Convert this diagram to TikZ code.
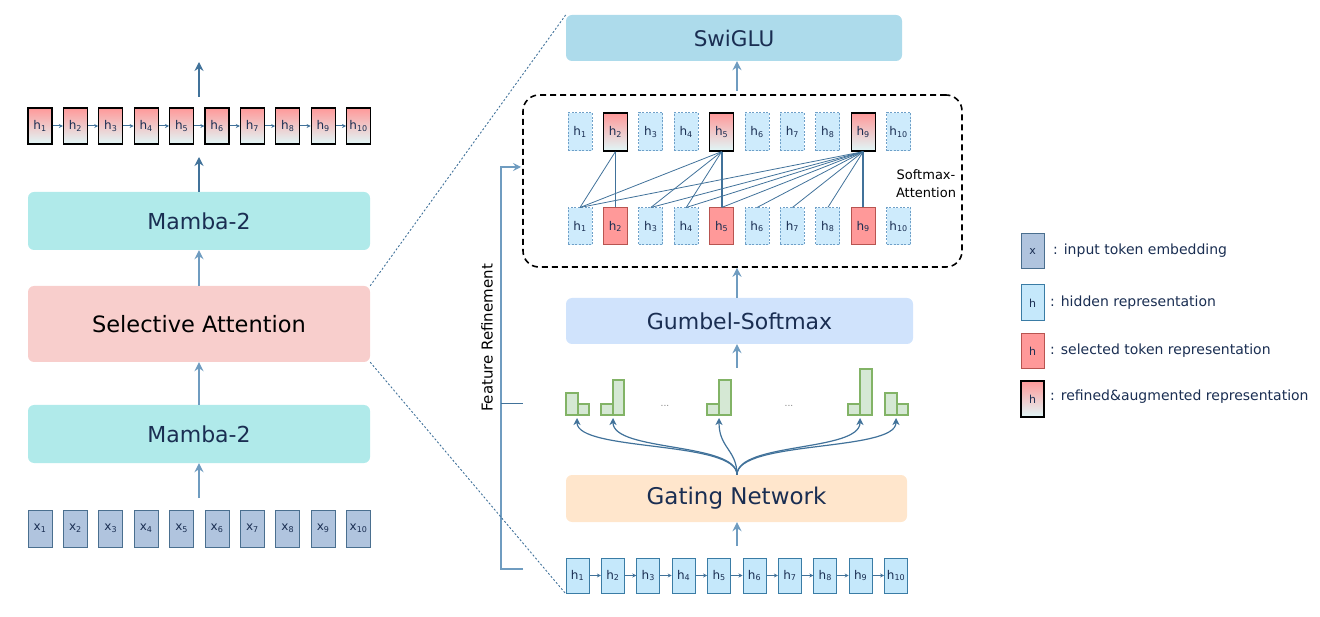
\documentclass[tikz,border=0pt]{standalone}
\usepackage{fontspec}
\setmainfont{DejaVu Sans}
\usetikzlibrary{arrows.meta}
\definecolor{arr}{HTML}{41729A}
\definecolor{arrl}{HTML}{6F9CC0}
\definecolor{navy}{HTML}{1A2E52}
\definecolor{xfill}{HTML}{B0C4DE}
\definecolor{xdraw}{HTML}{4A6F8F}
\definecolor{hfill}{HTML}{C5E8FB}
\definecolor{hdraw}{HTML}{3A7CA5}
\definecolor{hdash}{HTML}{6FA0C8}
\definecolor{sred}{HTML}{FF9999}
\definecolor{smid}{HTML}{F0C4C8}
\definecolor{sreddraw}{HTML}{B85450}
\definecolor{gcyan}{HTML}{E0F7F8}
\definecolor{mamba}{HTML}{B0EAEA}
\definecolor{selatt}{HTML}{F8CECC}
\definecolor{swiglu}{HTML}{ADDBEB}
\definecolor{gumbel}{HTML}{D0E3FC}
\definecolor{gating}{HTML}{FFE6CC}
\definecolor{gfill}{HTML}{D5E8D4}
\definecolor{gdraw}{HTML}{82B366}
\tikzset{
  tok/.style={rectangle, inner sep=0pt, minimum width=24pt, minimum height=36pt, text=navy, font=\fontsize{12}{14}\selectfont},
  xtok/.style={tok, fill=xfill, draw=xdraw, line width=1pt},
  htok/.style={tok, fill=hfill, draw=hdraw, line width=1pt},
  dtok/.style={tok, fill=hfill!85!white, draw=hdash, line width=1pt, dashed, dash pattern=on 2pt off 1.5pt},
  stok/.style={tok, fill=sred, draw=sreddraw, line width=1pt},
  rtok/.style={tok, top color=sred, middle color=smid, bottom color=gcyan, draw=black, line width=1.3pt},
  block/.style={rectangle, rounded corners=6pt, inner sep=0pt, text=navy, font=\fontsize{22}{26}\selectfont},
  bigarr/.style={draw=arr, line width=2pt, -{Stealth[length=9pt,width=9pt,inset=3pt]}},
  midarr/.style={draw=arrl, line width=2pt, -{Stealth[length=9pt,width=9pt,inset=3pt]}},
  smallarr/.style={draw=arr, line width=1pt, -{Stealth[length=4pt,width=4pt]}},
  curvarr/.style={draw=arr, line width=1.2pt, -{Stealth[length=7pt,width=7pt,inset=2pt]}},
  att/.style={draw=arr, line width=0.8pt},
  attk/.style={draw=arr, line width=1.8pt},
  bar/.style={fill=gfill, draw=gdraw, line width=1.2pt},
  zoomline/.style={draw=arr, line width=0.9pt, dash pattern=on 2pt off 2pt},
  legtxt/.style={anchor=west, text=navy, font=\fontsize{14}{16}\selectfont, inner sep=0pt},
}
\begin{document}
\begin{tikzpicture}[x=1pt,y=-1pt]
\useasboundingbox (0,0) rectangle (1320,617);

% ---------------- left column ----------------
\foreach \i in {1,...,10} {
  \pgfmathsetmacro\xx{40+35.4*(\i-1)}
  \node[rtok, line width=1.2pt] (lh\i) at (\xx,126) {h\textsubscript{\i}};
  \node[xtok, minimum height=37pt] (lx\i) at (\xx,528.5) {x\textsubscript{\i}};
}
\foreach \i [evaluate=\i as \j using int(\i+1)] in {1,...,9}
  \draw[smallarr] (lh\i) -- (lh\j);

\node[block, fill=mamba, minimum width=342pt, minimum height=58pt] (m2a) at (199,221) {Mamba-2};
\node[block, fill=selatt, text=black, minimum width=342pt, minimum height=76pt, font=\fontsize{22.5}{26}\selectfont] (sa) at (199,324) {Selective Attention};
\node[block, fill=mamba, minimum width=342pt, minimum height=58pt] (m2b) at (199,434) {Mamba-2};

\coordinate (topA) at (199,97);
\coordinate (topB) at (199,62);
\coordinate (rowin) at (199,157);
\coordinate (xout) at (199,498);
\draw[bigarr] (topA) -- (topB);
\draw[bigarr] (m2a.north) -- (rowin);
\draw[midarr] (sa.north) -- (m2a.south);
\draw[midarr] (m2b.north) -- (sa.south);
\draw[midarr] (xout) -- (m2b.south);

% ---------------- right panel ----------------
\node[block, fill=swiglu, minimum width=336pt, minimum height=46pt, font=\fontsize{21.5}{24}\selectfont] (sw) at (734,38) {SwiGLU};
\node[draw=black, dashed, dash pattern=on 6pt off 4pt, line width=1.6pt, rounded corners=16pt, minimum width=439pt, minimum height=172pt, inner sep=0pt] (db) at (742.5,181) {};

\foreach \i in {1,...,10} {
  \pgfmathsetmacro\xx{580+35.4*(\i-1)}
  \ifnum\i=2 \def\ts{rtok}\def\bs{stok}\else
  \ifnum\i=5 \def\ts{rtok}\def\bs{stok}\else
  \ifnum\i=9 \def\ts{rtok}\def\bs{stok}\else
  \def\ts{dtok}\def\bs{dtok}\fi\fi\fi
  \node[\ts, minimum height=38pt] (at\i) at (\xx,132) {h\textsubscript{\i}};
  \node[\bs, minimum height=37pt] (ab\i) at (\xx,226.5) {h\textsubscript{\i}};
  \pgfmathsetmacro\bx{577.5+35.4*(\i-1)}
  \node[htok, minimum width=23pt, minimum height=35pt] (bh\i) at (\bx,575.5) {h\textsubscript{\i}};
}
\foreach \i [evaluate=\i as \j using int(\i+1)] in {1,...,9}
  \draw[smallarr] (bh\i) -- (bh\j);

% attention lines
\draw[att] (at2.south) -- (ab1.north);
\draw[att] (at2.south) -- (ab2.north);
\foreach \k in {1,3,4} \draw[att] (at5.south) -- (ab\k.north);
\draw[attk] (at5.south) -- (ab5.north);
\foreach \k in {1,3,4,5,6,7,8} \draw[att] (at9.south) -- (ab\k.north);
\draw[attk] (at9.south) -- (ab9.north);

\node[text=black, align=center, font=\fontsize{13}{18}\selectfont, inner sep=0pt] (smx) at (926,184) {Softmax-\\Attention};

\node[block, fill=gumbel, minimum width=347pt, minimum height=46pt] (gs) at (739.5,321) {Gumbel-Softmax};
\node[block, fill=gating, minimum width=341pt, minimum height=47pt, font=\fontsize{23}{26}\selectfont] (gn) at (736.5,498.5) {Gating Network};

\coordinate (cx) at (737,0);
\coordinate (swin) at (737,91);
\coordinate (gsin) at (737,368);
\coordinate (gnin) at (737,546);
\draw[midarr] (swin) -- (sw.south -| cx);
\draw[midarr] (gs.north -| cx) -- (db.south -| cx);
\draw[midarr] (gsin) -- (gs.south -| cx);
\draw[midarr] (gnin) -- (gn.south -| cx);

% histograms
\draw[bar] (566,415) rectangle (578,393);
\draw[bar] (578,415) rectangle (589,404);
\draw[bar] (601,415) rectangle (613,404);
\draw[bar] (613,415) rectangle (624,380);
\draw[bar] (707,415) rectangle (719,404);
\draw[bar] (719,415) rectangle (731,380);
\draw[bar] (848,415) rectangle (860,404);
\draw[bar] (860,415) rectangle (872,369);
\draw[bar] (885,415) rectangle (897,393);
\draw[bar] (897,415) rectangle (908,404);
\node[text=gray, font=\fontsize{9}{12}\selectfont] (dots1) at (665,406) {...};
\node[text=gray, font=\fontsize{9}{12}\selectfont] (dots2) at (789,406) {...};

\coordinate (g1) at (577,418);
\coordinate (g2) at (613,418);
\coordinate (g3) at (719,418);
\coordinate (g4) at (860,418);
\coordinate (g5) at (896,418);
\draw[curvarr] (gn.north -| cx) .. controls (737,440) and (577,452) .. (g1);
\draw[curvarr] (gn.north -| cx) .. controls (737,442) and (613,452) .. (g2);
\draw[curvarr] (gn.north -| cx) .. controls (737,450) and (719,448) .. (g3);
\draw[curvarr] (gn.north -| cx) .. controls (737,442) and (860,452) .. (g4);
\draw[curvarr] (gn.north -| cx) .. controls (737,440) and (896,452) .. (g5);

% feature refinement bracket
\coordinate (frb) at (523,569);
\coordinate (frc) at (501,569);
\coordinate (frt) at (501,167);
\coordinate (fre) at (521,167);
\coordinate (frm) at (501,404);
\coordinate (frn) at (523,404);
\draw[draw=arrl, line width=2pt, -{Stealth[length=8pt,width=8pt,inset=3pt]}] (frb) -- (frc) -- (frt) -- (fre);
\draw[draw=arr, line width=1pt] (frm) -- (frn);
\node[rotate=90, text=black, font=\fontsize{15}{17}\selectfont, inner sep=0pt] (frtxt) at (487,338) {Feature Refinement};

% zoom lines
\draw[zoomline] (sa.north east) -- (sw.north west);
\draw[zoomline] (sa.south east) -- (bh1.south west);

% ---------------- legend ----------------
\node[xtok, minimum width=23pt, minimum height=35pt, font=\fontsize{11}{13}\selectfont] (legx) at (1032.5,251.5) {x};
\node[htok, minimum width=23pt, minimum height=36pt, font=\fontsize{11}{13}\selectfont] (legh) at (1032.5,303) {h};
\node[stok, minimum width=23pt, minimum height=35pt, font=\fontsize{11}{13}\selectfont] (legs) at (1032.5,351.5) {h};
\node[rtok, minimum width=23pt, minimum height=36pt, font=\fontsize{11}{13}\selectfont] (legr) at (1032.5,399) {h};
\node[legtxt] (tx) at (1053,251) {: input token embedding};
\node[legtxt] (th) at (1050,303) {: hidden representation};
\node[legtxt] (ts) at (1050,351) {: selected token representation};
\node[legtxt] (tr) at (1050,397) {: refined\&augmented representation};
\end{tikzpicture}
\end{document}
